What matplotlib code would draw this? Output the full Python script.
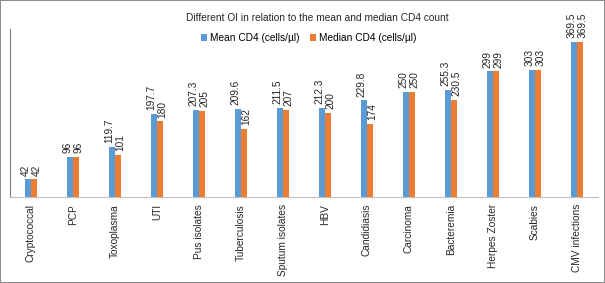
import matplotlib.pyplot as plt
import numpy as np

categories = ['Cryptococcal', 'PCP', 'Toxoplasma', 'UTI', 'Pus isolates', 'Tuberculosis',
              'Sputum isolates', 'HBV', 'Candidiasis', 'Carcinoma', 'Bacteremia',
              'Herpes Zoster', 'Scabies', 'CMV infections']
mean_cd4 = [42, 96, 119.7, 197.7, 207.3, 209.6, 211.5, 212.3, 229.8, 250, 255.3, 299, 303, 369.5]
median_cd4 = [42, 96, 101, 180, 205, 162, 207, 200, 174, 250, 230.5, 299, 303, 369.5]
mean_txt = ['42', '96', '119.7', '197.7', '207.3', '209.6', '211.5', '212.3', '229.8', '250',
            '255.3', '299', '303', '369.5']
median_txt = ['42', '96', '101', '180', '205', '162', '207', '200', '174', '250', '230.5',
              '299', '303', '369.5']

plt.rcParams['font.family'] = ['Liberation Sans', 'DejaVu Sans']

blue = '#5B9BD5'
orange = '#ED7D31'
fs = 7.3

fig = plt.figure(figsize=(6.05, 2.83), dpi=100)
fig.patch.set_edgecolor('#8c8c8c')
fig.patch.set_linewidth(1.2)
ax = fig.add_axes([0.0165, 0.304, 0.9715, 0.594])

x = np.arange(len(categories))
w = 0.145
ax.bar(x - w / 2, mean_cd4, w, color=blue, label='Mean CD4 (cells/\u00b5l)')
ax.bar(x + w / 2, median_cd4, w, color=orange, label='Median CD4 (cells/\u00b5l)')

for i in range(len(categories)):
    ax.text(x[i] - w / 2 - 0.06, mean_cd4[i] + 9, mean_txt[i], rotation=90, ha='center',
            va='bottom', fontsize=fs, color='#262626')
    ax.text(x[i] + w / 2 + 0.06, median_cd4[i] + 9, median_txt[i], rotation=90, ha='center',
            va='bottom', fontsize=fs, color='#262626')

ax.set_xlim(-0.5, len(categories) - 0.5)
ax.set_ylim(0, 400)
ax.set_xticks(x)
ax.set_xticklabels(categories, rotation=90, fontsize=fs, color='#262626')
ax.tick_params(axis='x', length=0, pad=5)
ax.set_yticks([])
for s in ['top', 'right']:
    ax.spines[s].set_visible(False)
ax.spines['left'].set_color('#7f7f7f')
ax.spines['bottom'].set_color('#bfbfbf')

fig.text(0.525, 0.935, 'Different OI in relation to the mean and median CD4 count',
         ha='center', va='center', fontsize=fs, color='#262626')
fig.legend(loc='center', bbox_to_anchor=(0.51, 0.866), ncol=2, frameon=False, fontsize=fs,
           handlelength=0.6, handleheight=0.6, handletextpad=0.3, columnspacing=1.0,
           borderpad=0)

fig.savefig('out.png', dpi=100)
